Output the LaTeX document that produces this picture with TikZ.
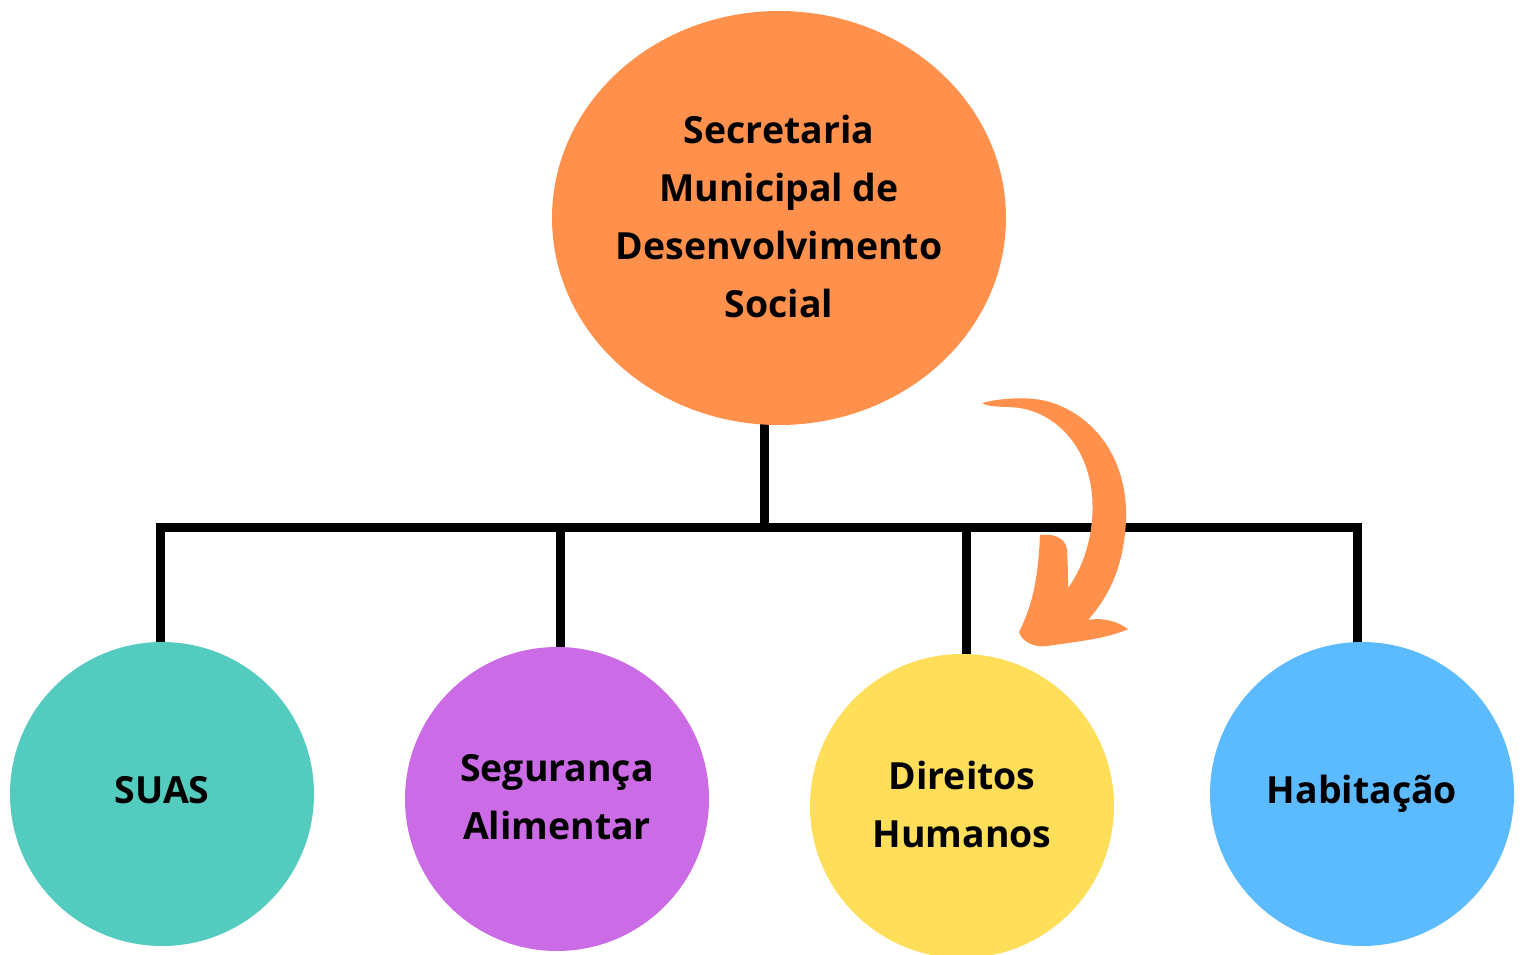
\documentclass[tikz,border=0pt]{standalone}
\usepackage{fontspec}
\setmainfont{Open Sans}[BoldFont={* Bold}]
\usetikzlibrary{shapes.geometric}
\definecolor{corange}{HTML}{FF914D}
\definecolor{cteal}{HTML}{54CBBF}
\definecolor{cpurple}{HTML}{CB6CE6}
\definecolor{cyellow}{HTML}{FFDE59}
\definecolor{cblue}{HTML}{5CBAFF}
\tikzset{
  lbl/.style={font=\bfseries\fontsize{18.7pt}{29pt}\selectfont, align=center, text=black, inner sep=0pt},
  unit/.style={circle, minimum size=152pt, inner sep=0pt},
  link/.style={line width=4.5pt, line join=miter, line cap=rect}
}
\begin{document}
\begin{tikzpicture}[x=0.5pt,y=-0.5pt]
\useasboundingbox (0,0) rectangle (1522,954);
\fill[white] (0,0) rectangle (1522,954);
% connectors
\coordinate (bus) at (764,527);
\coordinate (b1) at (160,527);
\coordinate (b2) at (560,527);
\coordinate (b3) at (966,527);
\coordinate (b4) at (1357,527);
\coordinate (t0) at (764,425);
\coordinate (t1) at (160,644);
\coordinate (t2) at (560,649);
\coordinate (t3) at (966,656);
\coordinate (t4) at (1357,644);
\draw[link] (t0) -- (bus);
\draw[link] (t1) -- (b1) -- (b4) -- (t4);
\draw[link] (b2) -- (t2);
\draw[link] (b3) -- (t3);
% nodes
\node[ellipse, inner sep=0pt, fill=corange, minimum width=227pt, minimum height=207pt] (top) at (779,218) {};
\node[lbl] (toptext) at (779,216) {Secretaria\\Municipal de\\Desenvolvimento\\Social};
\node[unit, fill=cteal] (suas) at (162,794) {};
\node[unit, fill=cpurple] (seg) at (557,799) {};
\node[unit, fill=cyellow] (dir) at (962,806) {};
\node[unit, fill=cblue] (hab) at (1362,794) {};
\node[lbl] (suast) at (162,790) {SUAS};
\node[lbl] (segt) at (557,797) {Segurança\\Alimentar};
\node[lbl] (dirt) at (962,804) {Direitos\\Humanos};
\node[lbl] (habt) at (1362,794) {Habitação};
% curved arrow
\fill[corange] (982,403) .. controls (1000,398) and (1030,396) .. (1050,402)
  .. controls (1100,418) and (1128,465) .. (1126,520)
  .. controls (1124,565) and (1110,595) .. (1088,620)
  .. controls (1105,617) and (1118,622) .. (1128,629)
  .. controls (1110,638) and (1075,642) .. (1047,646)
  .. controls (1035,648) and (1022,642) .. (1019,632)
  .. controls (1030,610) and (1038,585) .. (1040,535)
  .. controls (1050,534) and (1065,535) .. (1067,550)
  .. controls (1068,565) and (1068,578) .. (1068,588)
  .. controls (1085,565) and (1095,530) .. (1092,495)
  .. controls (1088,450) and (1060,415) .. (1020,408)
  .. controls (1005,406) and (990,408) .. (982,403) -- cycle;
\end{tikzpicture}
\end{document}
